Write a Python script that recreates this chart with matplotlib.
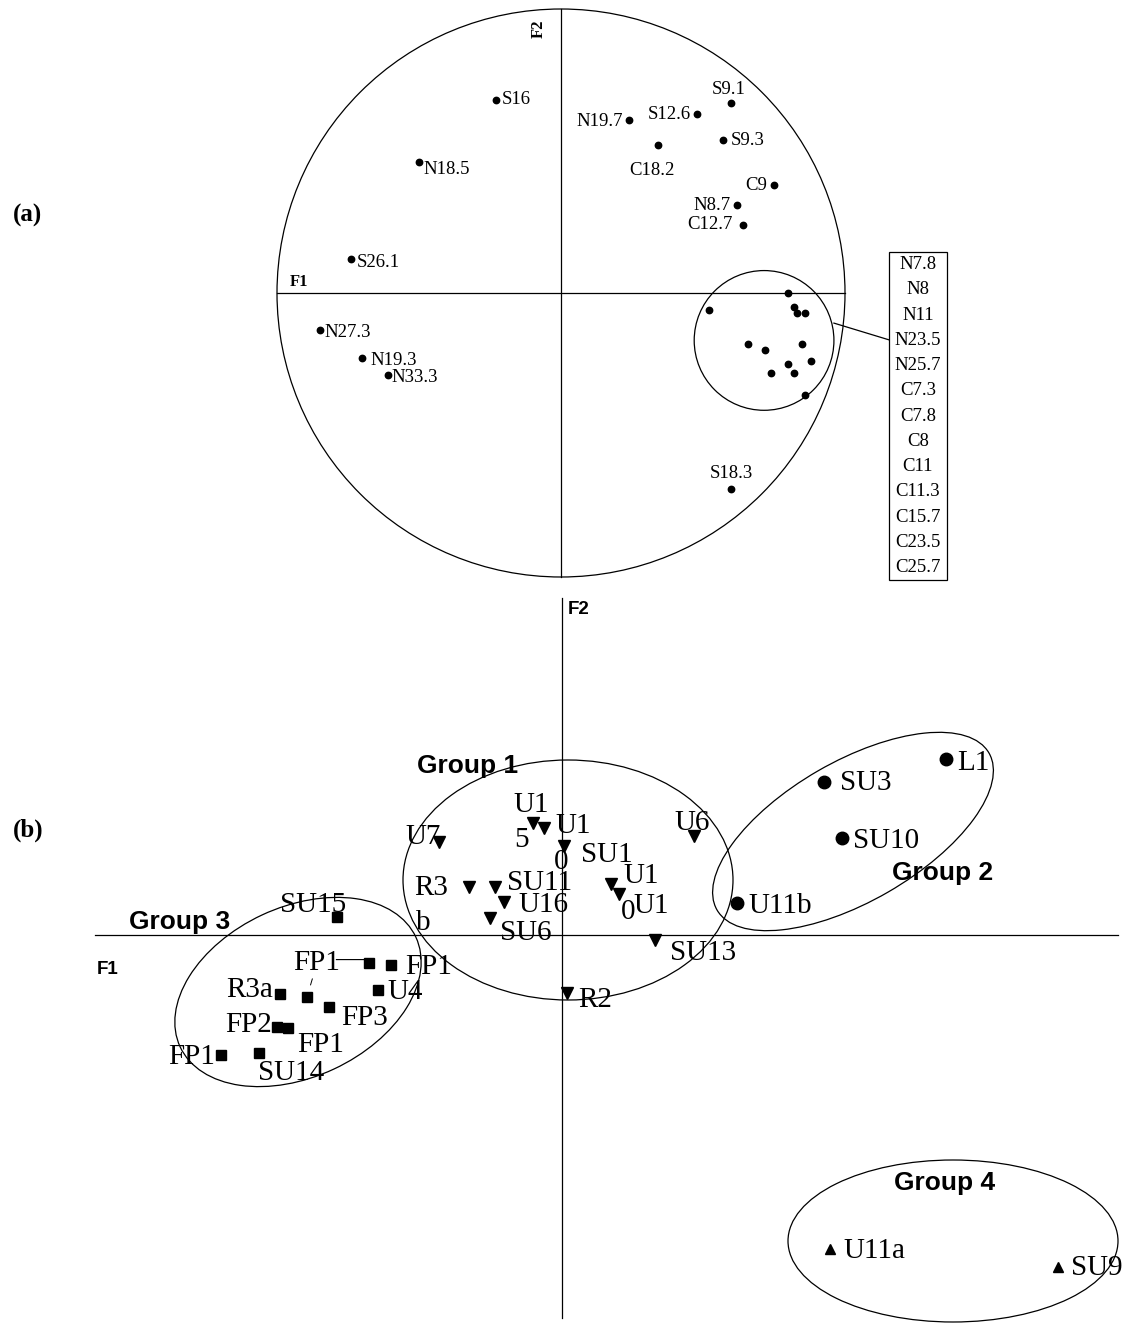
import matplotlib
matplotlib.use("Agg")
import matplotlib.pyplot as plt
from matplotlib.patches import Circle, Ellipse, Rectangle

# (a) correlation circle: variables on F1/F2
var_names = ["S16", "N18.5", "S26.1", "N19.7", "S12.6", "S9.1", "S9.3", "C18.2",
             "C9", "N8.7", "C12.7", "N27.3", "N19.3", "N33.3", "S18.3"]
var_f1 = [-0.23, -0.50, -0.74, 0.24, 0.48, 0.60, 0.57, 0.34,
          0.75, 0.62, 0.64, -0.85, -0.70, -0.61, 0.60]
var_f2 = [0.68, 0.46, 0.12, 0.61, 0.63, 0.67, 0.54, 0.52,
          0.38, 0.31, 0.24, -0.13, -0.23, -0.29, -0.69]

# grouped variables (listed in the box)
clus_names = ["N7.8", "N8", "N11", "N23.5", "N25.7", "C7.3", "C7.8",
              "C8", "C11", "C11.3", "C15.7", "C23.5", "C25.7"]
clus_f1 = [0.80, 0.52, 0.82, 0.83, 0.86, 0.66, 0.72, 0.85, 0.88, 0.80, 0.74, 0.82, 0.86]
clus_f2 = [0.00, -0.06, -0.05, -0.07, -0.07, -0.18, -0.20, -0.18, -0.24, -0.25, -0.28, -0.28, -0.36]

# (b) sample scores on F1/F2
g1_f1 = [-1.23, -0.29, -0.18, 0.02, -0.93, -0.67, -0.58, -0.72, 0.49, 0.57, 1.32, 0.93, 0.05]
g1_f2 = [0.93, 1.12, 1.07, 0.89, 0.48, 0.48, 0.33, 0.17, 0.51, 0.41, 0.99, -0.05, -0.58]
g2_names = ["SU3", "L1", "SU10", "U11b"]
g2_f1 = [2.62, 3.84, 2.80, 1.75]
g2_f2 = [1.53, 1.76, 0.97, 0.32]
g3_f1 = [-2.25, -1.93, -1.71, -2.82, -2.55, -1.84, -2.33, -2.85, -2.74, -3.41, -3.03]
g3_f2 = [0.18, -0.28, -0.30, -0.59, -0.62, -0.55, -0.72, -0.92, -0.93, -1.20, -1.18]
g4_names = ["U11a", "SU9"]
g4_f1 = [2.68, 4.96]
g4_f2 = [-3.14, -3.32]

W, H = 1123, 1325
fig = plt.figure(figsize=(W / 100, H / 100), dpi=100)
SERIF = "Liberation Serif"
SANS = "Liberation Sans"
LW = 0.9


def axes_px(x0, y0, x1, y1, xlim, ylim):
    # axes placed by pixel box (origin top-left)
    ax = fig.add_axes([x0 / W, 1 - y1 / H, (x1 - x0) / W, (y1 - y0) / H])
    ax.set_xlim(*xlim)
    ax.set_ylim(*ylim)
    ax.axis("off")
    return ax


def lab(ax, s, x, y, dx, dy, ha="left", size=21, **kw):
    ax.annotate(s, (x, y), xytext=(dx, dy), textcoords="offset pixels",
                ha=ha, va="center", family=SERIF, fontsize=size,
                annotation_clip=False, **kw)


# ---------------- (a) ----------------
ax = axes_px(0, 0, W, 590, (-561 / 284, 562 / 284), (-297 / 284, 293 / 284))
ax.add_patch(Circle((0, 0), 1.0, fill=False, lw=LW, ec="black"))
ax.plot([-1, 1], [0, 0], color="black", lw=LW)
ax.plot([0, 0], [-1, 1], color="black", lw=LW)
ax.text(-0.955, 0.04, "F1", family=SERIF, weight="bold", fontsize=12, va="center")
ax.text(-0.08, 0.93, "F2", family=SERIF, weight="bold", fontsize=12,
        rotation=90, ha="center", va="center")

ax.plot(var_f1, var_f2, "o", color="black", ms=4.6, ls="none")
ax.plot(clus_f1, clus_f2, "o", color="black", ms=4.6, ls="none")

var_off = [(6, 0, "left"), (4, -7, "left"), (6, -4, "left"), (-6, -2, "right"),
           (-6, 0, "right"), (-3, 13, "center"), (8, -1, "left"), (-6, -25, "center"),
           (-7, 0, "right"), (-7, -1, "right"), (-10, 0, "right"), (5, -3, "left"),
           (8, -2, "left"), (4, -2, "left"), (0, 15, "center")]
for s, x, y, (dx, dy, ha) in zip(var_names, var_f1, var_f2, var_off):
    lab(ax, s, x, y, dx, dy, ha=ha, size=13.5)

# ring round the grouped variables, leader and name box
ax.add_patch(Circle((0.715, -0.167), 0.246, fill=False, lw=LW, ec="black"))
ax.plot([0.961, 1.155], [-0.106, -0.165], color="black", lw=LW)
bx0, bx1, by0, by1 = 1.155, 1.359, 0.144, -1.011
ax.add_patch(Rectangle((bx0, by1), bx1 - bx0, by0 - by1, fill=False, lw=LW,
                       ec="black", clip_on=False))
row = (by0 - by1) / len(clus_names)
for i, s in enumerate(clus_names):
    ax.text((bx0 + bx1) / 2, by0 - row * (i + 0.5), s, family=SERIF,
            fontsize=13.5, ha="center", va="center")

# ---------------- (b) ----------------
bx = axes_px(0, 590, W, H, (-5.62, 5.61), (-3.90, 3.45))
bx.plot([-4.67, 5.56], [0, 0], color="black", lw=LW)
bx.plot([0, 0], [-3.83, 3.37], color="black", lw=LW)
bx.text(-4.54, -0.35, "F1", family=SANS, weight="bold", fontsize=13.5,
        ha="center", va="center")
bx.text(0.06, 3.25, "F2", family=SANS, weight="bold", fontsize=13.5,
        ha="left", va="center")

bx.plot(g1_f1, g1_f2, "v", color="black", ms=9, ls="none")
bx.plot(g2_f1, g2_f2, "o", color="black", ms=9, ls="none")
bx.plot(g3_f1, g3_f2, "s", color="black", ms=7.5, ls="none")
bx.plot(g4_f1, g4_f2, "^", color="black", ms=7.5, ls="none")

# group 1 labels: (text, point index, dx, dy, ha)
g1_labels = [("U7", 0, -16, 5, "center"), ("U1", 1, -2, 18, "center"),
             ("5", 1, -12, -17, "center"), ("U1", 2, 11, 2, "left"),
             ("0", 3, -3, -16, "center"), ("SU1", 3, 17, -9, "left"),
             ("R3", 4, -21, -1, "right"), ("b", 4, -46, -36, "center"),
             ("SU11", 5, 12, 4, "left"), ("U16", 6, 14, -3, "left"),
             ("SU6", 7, 10, -15, "left"), ("U1", 8, 12, 8, "left"),
             ("U1", 9, 14, -12, "left"), ("0", 9, 9, -18, "center"),
             ("U6", 10, -2, 13, "center"), ("SU13", 11, 15, -13, "left"),
             ("R2", 12, 11, -7, "left")]
for s, i, dx, dy, ha in g1_labels:
    lab(bx, s, g1_f1[i], g1_f2[i], dx, dy, ha=ha)

g2_off = [(16, -1), (11, -4), (11, -3), (11, -3)]
for s, x, y, (dx, dy) in zip(g2_names, g2_f1, g2_f2, g2_off):
    lab(bx, s, x, y, dx, dy)

g3_labels = [("SU15", 0, -24, 12, "center"), ("—", 1, -5, 2, "right"),
             ("FP1", 2, 14, -2, "left"), ("R3a", 3, -7, 4, "right"),
             ("U4", 5, 9, -2, "left"), ("FP3", 6, 12, -11, "left"),
             ("FP2", 7, -5, 2, "right"), ("FP1", 8, 9, -17, "left"),
             ("FP1", 9, -6, -2, "right"), ("SU14", 10, -1, -20, "left")]
for s, i, dx, dy, ha in g3_labels:
    lab(bx, s, g3_f1[i], g3_f2[i], dx, dy, ha=ha)
# label with a short leader down to its square
bx.annotate("FP1", (g3_f1[4], g3_f2[4]), xytext=(10, 34), textcoords="offset pixels",
            ha="center", va="center", family=SERIF, fontsize=21,
            arrowprops=dict(arrowstyle="-", lw=0.7, color="black",
                            shrinkA=0, shrinkB=9))

g4_off = [(13, -2), (13, -1)]
for s, x, y, (dx, dy) in zip(g4_names, g4_f1, g4_f2, g4_off):
    lab(bx, s, x, y, dx, dy)

# group outlines
outlines = [((0.06, 0.55), 3.30, 2.40, 0), ((2.91, 1.035), 3.14, 1.40, 30),
            ((-2.64, -0.57), 2.60, 1.70, 25), ((3.91, -3.06), 3.30, 1.62, 0)]
for c, w, h, a in outlines:
    bx.add_patch(Ellipse(c, w, h, angle=a, fill=False, lw=LW, ec="black", clip_on=False))

group_text = [("Group 1", -0.94, 1.69), ("Group 2", 3.81, 0.62),
              ("Group 3", -3.82, 0.13), ("Group 4", 3.83, -2.48)]
for s, x, y in group_text:
    bx.text(x, y, s, family=SANS, weight="bold", fontsize=19, ha="center", va="center")

fig.text(28 / W, 1 - 215 / H, "(a)", family=SERIF, weight="bold", fontsize=18,
         ha="center", va="center")
fig.text(28 / W, 1 - 830 / H, "(b)", family=SERIF, weight="bold", fontsize=18,
         ha="center", va="center")

fig.savefig("out.png", dpi=100, facecolor="white")
